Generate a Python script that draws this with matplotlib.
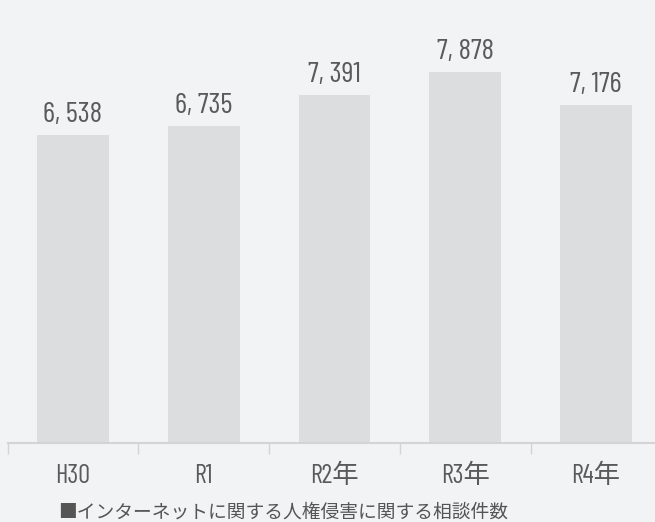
import matplotlib
matplotlib.use("Agg")
import matplotlib.pyplot as plt

categories = ["H30", "R1", "R2年", "R3年", "R4年"]
counts = [6538, 6735, 7391, 7878, 7176]
value_labels = ["6, 538", "6, 735", "7, 391", "7, 878", "7, 176"]
legend_label = "■インターネットに関する人権侵害に関する相談件数"

bg = "#f2f3f5"
fonts = ["Barlow Condensed", "Noto Sans CJK JP", "DejaVu Sans"]
plt.rcParams["font.family"] = fonts

fig = plt.figure(figsize=(6.55, 5.22), dpi=100, facecolor=bg)
ax = fig.add_axes([7.5 / 655, 79 / 522, 654 / 655, 443 / 522])
ax.set_facecolor(bg)

x = range(len(categories))
bars = ax.bar(x, counts, width=0.55, color="#dcdddf")

# labels sit ~13px above bar tops
for b, lab in zip(bars, value_labels):
    ax.text(b.get_x() + b.get_width() / 2, b.get_height() + 280, lab,
            ha="center", va="baseline", fontsize=21, color="#5a5a5a")

ax.set_xlim(-0.5, 4.5)
ax.set_ylim(0, 9403)
ax.set_yticks([])
ax.set_xticks([i - 0.5 for i in range(len(categories))])
ax.set_xticklabels([])
ax.set_xticks(list(x), minor=True)
ax.set_xticklabels(categories, minor=True, fontsize=19, color="#5a5a5a")
ax.tick_params(axis="x", which="major", length=8, color="#d4d4d6", width=1)
ax.tick_params(axis="x", which="minor", length=0, pad=15)

for s in ["top", "right", "left"]:
    ax.spines[s].set_visible(False)
ax.spines["bottom"].set_color("#d4d4d6")
ax.spines["bottom"].set_linewidth(1.5)

fig.text(58 / 655, 1 - 512 / 522, legend_label, ha="left", va="center",
         fontsize=13.5, color="#555555", family=["Noto Sans CJK JP", "DejaVu Sans"])

fig.savefig("out.png", dpi=100, facecolor=bg)
